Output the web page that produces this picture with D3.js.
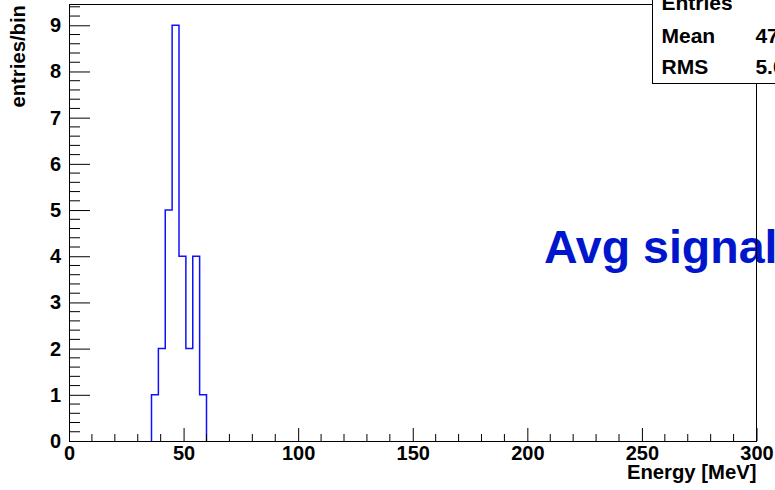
<!DOCTYPE html>
<html>
<head>
<meta charset="utf-8">
<script src="https://cdn.jsdelivr.net/npm/d3@7"></script>
<style>
  html, body { margin: 0; padding: 0; background: #fff; }
  svg { display: block; font-family: "Liberation Sans", Arial, Helvetica, sans-serif; font-weight: bold; }
</style>
</head>
<body>
<svg id="chart" width="775" height="490"></svg>
<script>
// ---- data ----
const binLowEdges = [36, 39, 42, 45, 48, 51, 54, 57];
const binCounts   = [1, 2, 5, 9, 4, 2, 4, 1];
const binWidth = 3;
const xMajorTicks = [0, 50, 100, 150, 200, 250, 300];
const yMajorTicks = [0, 1, 2, 3, 4, 5, 6, 7, 8, 9];
const statLabels = ["Entries", "Mean", "RMS"];
const statValues = ["28", "47.79", "5.099"];
const xTitle = "Energy [MeV]";
const yTitle = "entries/bin";
const annotation = "Avg signal";

// ---- layout ----
const svg = d3.select("#chart");
const L = 69, R = 756.5, T = 4.5, B = 441;
const x = d3.scaleLinear().domain([0, 300]).range([L, R]);
const y = d3.scaleLinear().domain([0, 9.45]).range([B, T]);

// annotation text (under frame)
svg.append("text")
  .attr("x", 544).attr("y", 263)
  .attr("font-size", 46.5)
  .attr("fill", "rgb(0,22,204)")
  .text(annotation);

// histogram outline
const pts = [[binLowEdges[0], 0]];
binLowEdges.forEach((lo, i) => {
  pts.push([lo, binCounts[i]]);
  pts.push([lo + binWidth, binCounts[i]]);
});
pts.push([binLowEdges[binLowEdges.length - 1] + binWidth, 0]);
svg.append("path")
  .attr("d", d3.line().x(d => x(d[0])).y(d => y(d[1]))(pts))
  .attr("fill", "none")
  .attr("stroke", "#1010ff")
  .attr("stroke-width", 1.5);

// minor ticks
const xMinor = d3.range(0, 301, 10).filter(v => v % 50 !== 0);
svg.append("g").selectAll("line").data(xMinor).join("line")
  .attr("x1", d => x(d)).attr("x2", d => x(d))
  .attr("y1", B).attr("y2", B - 7)
  .attr("stroke", "#000").attr("stroke-width", 1);
const yMinor = d3.range(0, 9.45, 0.2).filter(v => Math.abs(v - Math.round(v)) > 1e-6);
svg.append("g").selectAll("line").data(yMinor).join("line")
  .attr("x1", L).attr("x2", L + 11)
  .attr("y1", d => y(d)).attr("y2", d => y(d))
  .attr("stroke", "#000").attr("stroke-width", 1);

// axes
const xAxis = d3.axisBottom(x).tickValues(xMajorTicks).tickSizeInner(-13).tickSizeOuter(0).tickPadding(4.5).tickFormat(d3.format("d"));
const gx = svg.append("g").attr("transform", `translate(0,${B})`).call(xAxis);
const yAxis = d3.axisLeft(y).tickValues(yMajorTicks).tickSizeInner(-21).tickSizeOuter(0).tickPadding(8).tickFormat(d3.format("d"));
const gy = svg.append("g").attr("transform", `translate(${L},0)`).call(yAxis);
[gx, gy].forEach(g => {
  g.selectAll("text").attr("font-size", 20).attr("font-family", '"Liberation Sans", Arial, sans-serif').attr("font-weight", "bold").attr("fill", "#000");
  g.selectAll("line").attr("stroke", "#000");
  g.select(".domain").attr("stroke", "#000");
});

// frame (top & right)
svg.append("line").attr("x1", L).attr("x2", R).attr("y1", T).attr("y2", T).attr("stroke", "#000");
svg.append("line").attr("x1", R).attr("x2", R).attr("y1", T).attr("y2", B).attr("stroke", "#000");

// axis titles
svg.append("text")
  .attr("x", R).attr("y", 478.5)
  .attr("text-anchor", "end")
  .attr("font-size", 20.3)
  .text(xTitle);
svg.append("text")
  .attr("transform", "translate(25,5) rotate(-90)")
  .attr("text-anchor", "end")
  .attr("font-size", 20.3)
  .text(yTitle);

// stats box
svg.append("rect")
  .attr("x", 652.5).attr("y", -20).attr("width", 200).attr("height", 103.5)
  .attr("fill", "#fff").attr("stroke", "#000").attr("stroke-width", 1);
const rowY = [10, 43, 74];
statLabels.forEach((s, i) => {
  svg.append("text").attr("x", 661.5).attr("y", rowY[i]).attr("font-size", 21).text(s);
  svg.append("text").attr("x", 808).attr("y", rowY[i]).attr("font-size", 21).attr("text-anchor", "end").text(statValues[i]);
});
</script>
</body>
</html>
